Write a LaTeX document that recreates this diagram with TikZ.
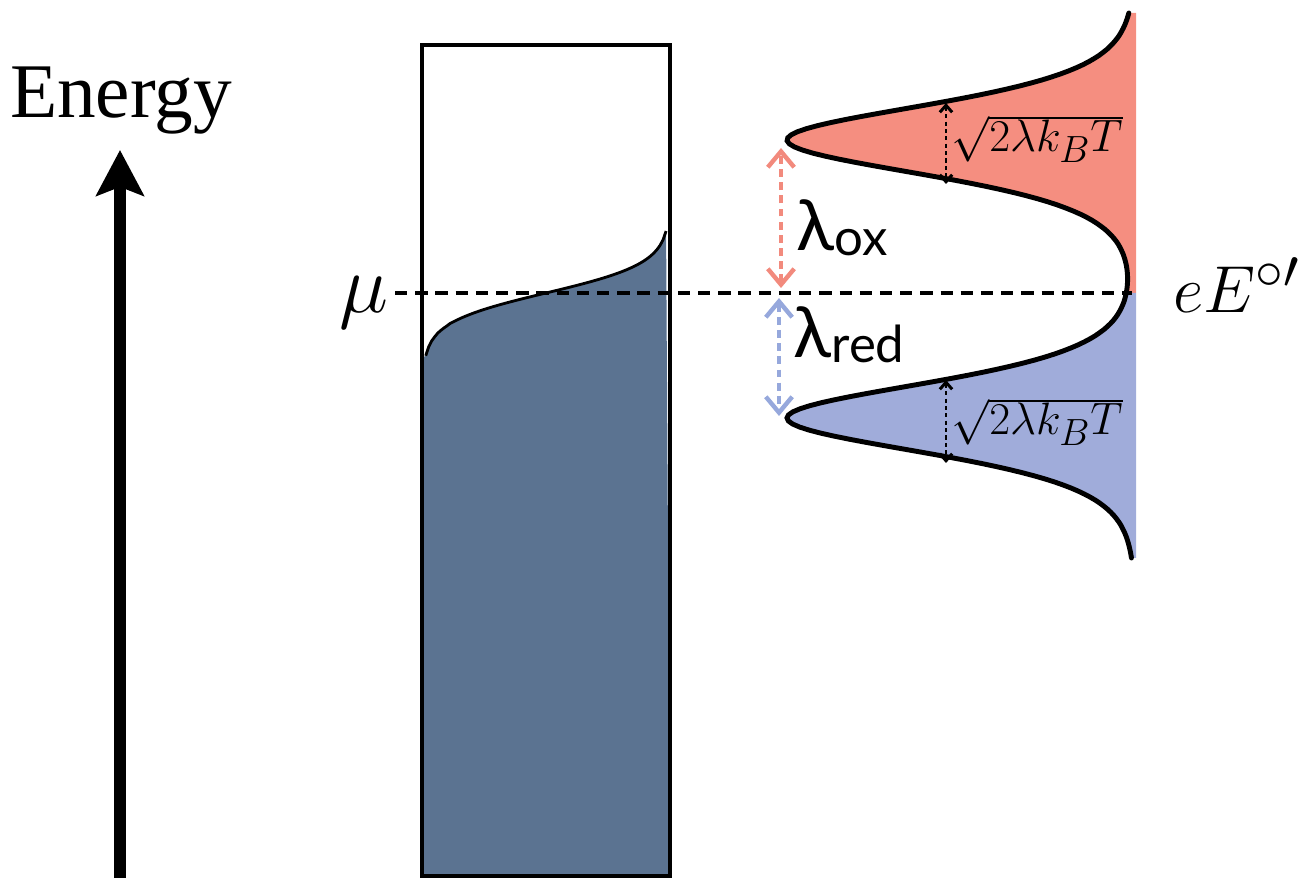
\documentclass[tikz,border=0pt]{standalone}
\usepackage{fontspec}
\setmainfont{Liberation Serif}
\newfontfamily\lamfont{Lato}
\usetikzlibrary{arrows.meta}

\definecolor{metalblue}{RGB}{91,115,145}
\definecolor{oxfill}{RGB}{245,142,128}
\definecolor{redfill}{RGB}{160,172,218}
\definecolor{oxarrow}{RGB}{242,138,125}
\definecolor{redarrow}{RGB}{150,168,220}

\tikzset{
  box line/.style={line width=2.2pt},
  dos line/.style={line width=2.8pt},
  gap arrow/.style={line width=2.5pt, dash pattern=on 4.5pt off 3pt,
    {Straight Barb[width=15pt,length=9pt]}-{Straight Barb[width=15pt,length=9pt]}},
  width arrow/.style={line width=1.7pt, dash pattern=on 2.4pt off 1.8pt,
    {Straight Barb[width=7pt,length=4pt]}-{Straight Barb[width=7pt,length=4pt]}},
  lam label/.style={font=\lamfont\fontsize{40}{40}\selectfont},
  sqrt label/.style={font=\Huge, scale=1.04}
}

\begin{document}
\begin{tikzpicture}[x=0.02cm, y=-0.02cm,
  declare function={sechsq(\u)=4*exp(-2*abs(\u))/(1+exp(-2*abs(\u)))^2;
    dos(\y)=1135-348*(sechsq((\y-140)/47)+sechsq((\y-418)/47));}]
  \useasboundingbox (0,0) rectangle (1303,878);

  % Energy axis
  \node[anchor=base, font=\fontsize{44}{50}\selectfont] (energy) at (121,118) {Energy};
  \coordinate (axbot) at (120,878);
  \coordinate (axtop) at (120,150);
  \draw[line width=6.3pt, -{Stealth[length=26pt,width=27pt,inset=5pt]}] (axbot) -- (axtop);

  % metal: filled states below the Fermi edge
  \fill[metalblue] (422,876) -- (422,358)
    -- plot[domain=0.015:0.985, samples=80, variable=\t]
       ({422+248*\t}, {293-15*ln(\t/(1-\t))})
    -- (670,876) -- cycle;
  \draw[line width=1.6pt] plot[domain=0.015:0.985, samples=80, variable=\t]
       ({422+248*\t}, {293-15*ln(\t/(1-\t))});
  \draw[box line] (422,45) rectangle (670,876);

  % redox densities of states
  \fill[oxfill] plot[domain=13:293, samples=90, variable=\y] ({dos(\y)}, \y)
    -- (1136,293) -- (1136,13) -- cycle;
  \fill[redfill] plot[domain=293:558, samples=90, variable=\y] ({dos(\y)}, \y)
    -- (1136,558) -- (1136,293) -- cycle;
  \draw[dos line, line cap=round] plot[domain=13:558, samples=180, variable=\y] ({dos(\y)}, \y);

  % chemical potential / formal potential
  \coordinate (fermiL) at (395,293);
  \coordinate (fermiR) at (1132,293);
  \draw[line width=2.2pt, dash pattern=on 7pt off 4.5pt] (fermiL) -- (fermiR);
  \node[font=\Huge, scale=1.9] (mu) at (364,303) {$\mu$};
  \node[anchor=base, font=\Huge, scale=1.52] (eE) at (1237,313) {$eE^{\circ\prime}$};

  % reorganisation energies
  \coordinate (oxtop) at (781,148);
  \coordinate (oxbot) at (781,288);
  \coordinate (redtop) at (779,298);
  \coordinate (redbot) at (779,416);
  \draw[gap arrow, oxarrow] (oxbot) -- (oxtop);
  \draw[gap arrow, redarrow] (redtop) -- (redbot);
  \node[lam label] (lox) at (842,228) {λ\raisebox{-3pt}{\fontsize{29}{29}\selectfont ox}};
  \node[lam label] (lred) at (849,335) {λ\raisebox{-3pt}{\fontsize{29}{29}\selectfont red}};

  % widths
  \coordinate (woxtop) at (946,103);
  \coordinate (woxbot) at (946,184);
  \coordinate (wredtop) at (946,380);
  \coordinate (wredbot) at (946,463);
  \draw[width arrow] (woxtop) -- (woxbot);
  \draw[width arrow] (wredtop) -- (wredbot);
  \node[sqrt label] (wox) at (1037,139) {$\sqrt{2\lambda k_BT}$};
  \node[sqrt label] (wred) at (1037,422) {$\sqrt{2\lambda k_BT}$};
\end{tikzpicture}
\end{document}
